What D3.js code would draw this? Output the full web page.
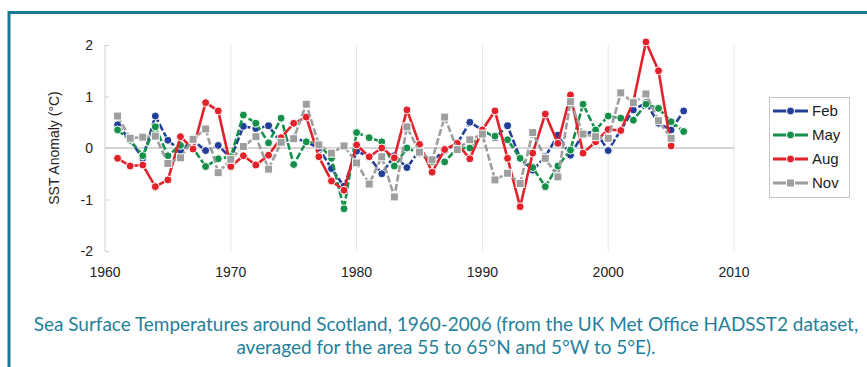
<!DOCTYPE html>
<html>
<head>
<meta charset="utf-8">
<script src="https://cdn.jsdelivr.net/npm/d3@7"></script>
<style>
  html, body { margin: 0; padding: 0; background: #fff; }
  svg { display: block; }
</style>
</head>
<body>
<div id="chart"></div>
<script>
const years = d3.range(1961, 2007)

const feb = [0.45, 0.15, -0.2, 0.62, 0.15, -0.05, 0.15, -0.05, 0.05, -0.2,
  0.42, 0.38, 0.43, 0.1, 0.2, 0.12, 0.0, -0.4, -0.74, -0.06,
  -0.17, -0.5, -0.15, -0.38, -0.05, -0.25, -0.05, 0.09, 0.5, 0.35,
  0.2, 0.43, -0.2, -0.43, -0.17, 0.25, -0.14, 0.28, 0.32, -0.05,
  0.35, 0.74, 0.88, 0.48, 0.35, 0.72]

const may = [0.35, 0.15, -0.15, 0.41, -0.15, 0.05, 0.0, -0.36, -0.21, -0.17,
  0.64, 0.48, 0.1, 0.58, -0.32, 0.12, 0.08, -0.2, -1.18, 0.3,
  0.2, 0.12, -0.35, 0.0, -0.1, -0.27, -0.27, 0.0, 0.0, 0.32,
  0.23, 0.16, -0.2, -0.38, -0.75, -0.35, -0.04, 0.85, 0.35, 0.62,
  0.58, 0.54, 0.85, 0.77, 0.51, 0.32]

const aug = [-0.2, -0.35, -0.33, -0.75, -0.62, 0.22, -0.02, 0.88, 0.72, -0.36,
  -0.15, -0.33, -0.14, 0.2, 0.48, 0.6, -0.17, -0.64, -0.82, 0.06,
  -0.17, 0.0, -0.19, 0.74, 0.07, -0.47, -0.03, 0.09, -0.21, 0.35,
  0.72, -0.2, -1.14, -0.1, 0.66, 0.09, 1.03, -0.1, 0.12, 0.36,
  0.34, 0.9, 2.06, 1.5, 0.04]

const nov = [0.62, 0.19, 0.21, 0.23, -0.3, -0.19, 0.17, 0.37, -0.48, -0.22,
  0.03, 0.22, -0.41, 0.11, 0.18, 0.85, 0.06, -0.1, 0.04, -0.29,
  -0.7, -0.17, -0.95, 0.41, -0.08, -0.23, 0.6, -0.03, 0.16, 0.27,
  -0.62, -0.49, -0.69, 0.3, -0.2, -0.56, 0.9, 0.27, 0.22, 0.19,
  1.07, 0.88, 1.05, 0.53, 0.19]

const xTicks = [1960, 1970, 1980, 1990, 2000, 2010]
const yTicks = [-2, -1, 0, 1, 2]

const series = [
  { name: 'Feb', values: feb, color: '#213f98', shape: 'circle' },
  { name: 'May', values: may, color: '#15904b', shape: 'circle' },
  { name: 'Aug', values: aug, color: '#e3212b', shape: 'circle' },
  { name: 'Nov', values: nov, color: '#9e9e9e', shape: 'square' }
]

const captionLines = [
  'Sea Surface Temperatures around Scotland, 1960-2006 (from the UK Met Office HADSST2 dataset,',
  'averaged for the area 55 to 65°N and 5°W to 5°E).'
]

const width = 867
const height = 367
const frameColor = '#1a7a92'
const textColor = '#222'
const axisFont = 'Liberation Sans, Arial, sans-serif'

const svg = d3.select('#chart')
  .append('svg')
  .attr('width', width)
  .attr('height', height)

// teal frame along top and left
svg.append('path')
  .attr('d', `M9,${height} L9,12.5 L${width},12.5`)
  .attr('fill', 'none')
  .attr('stroke', frameColor)
  .attr('stroke-width', 3)

const x = d3.scaleLinear().domain([1960, 2010]).range([105, 734])
const y = d3.scaleLinear().domain([-2, 2]).range([251, 45])

// vertical grid
svg.append('g')
  .selectAll('line')
  .data(xTicks.slice(1))
  .join('line')
  .attr('x1', (d) => x(d))
  .attr('x2', (d) => x(d))
  .attr('y1', y(2))
  .attr('y2', y(-2))
  .attr('stroke', '#e4e4e4')
  .attr('stroke-width', 1)

// zero line
svg.append('line')
  .attr('x1', x(1960))
  .attr('x2', x(2010))
  .attr('y1', y(0))
  .attr('y2', y(0))
  .attr('stroke', '#c8c8c8')
  .attr('stroke-width', 1.5)

// y axis
const yAxis = svg.append('g')
  .attr('transform', `translate(${x(1960)},0)`)
  .call(d3.axisRight(y).tickValues(yTicks).tickSize(4).tickFormat(''))
yAxis.selectAll('path, line').attr('stroke', '#cfcfcf')
yAxis.select('.domain').attr('d', `M0,${y(2)}V${y(-2)}`)

svg.append('g')
  .selectAll('text')
  .data(yTicks)
  .join('text')
  .attr('x', 93)
  .attr('y', (d) => y(d) + 5)
  .attr('text-anchor', 'end')
  .attr('font-family', axisFont)
  .attr('font-size', 14)
  .attr('fill', textColor)
  .text((d) => d)

svg.append('g')
  .selectAll('text')
  .data(xTicks)
  .join('text')
  .attr('x', (d) => x(d))
  .attr('y', 277)
  .attr('text-anchor', 'middle')
  .attr('font-family', axisFont)
  .attr('font-size', 14)
  .attr('fill', textColor)
  .text((d) => d)

svg.append('text')
  .attr('transform', `translate(59,148) rotate(-90)`)
  .attr('text-anchor', 'middle')
  .attr('font-family', axisFont)
  .attr('font-size', 14)
  .attr('fill', textColor)
  .text('SST Anomaly (°C)')

const line = d3.line()
  .x((d) => x(d.year))
  .y((d) => y(d.value))

const drawMarker = (g, shape, color, cx, cy) => {
  if (shape === 'square') {
    g.append('rect')
      .attr('x', cx - 4)
      .attr('y', cy - 4)
      .attr('width', 8)
      .attr('height', 8)
      .attr('fill', color)
      .attr('stroke', '#fff')
      .attr('stroke-width', 1)
  } else {
    g.append('circle')
      .attr('cx', cx)
      .attr('cy', cy)
      .attr('r', 4)
      .attr('fill', color)
      .attr('stroke', '#fff')
      .attr('stroke-width', 1)
  }
}

series.forEach((s) => {
  const pts = s.values.map((v, i) => ({ year: years[i], value: v }))
  const g = svg.append('g')
  g.append('path')
    .datum(pts)
    .attr('d', line)
    .attr('fill', 'none')
    .attr('stroke', s.color)
    .attr('stroke-width', 2.6)
    .attr('stroke-dasharray', s.name === 'Aug' ? null : '7,2.5')
  pts.forEach((p) => drawMarker(g, s.shape, s.color, x(p.year), y(p.value)))
})

// legend
const legend = svg.append('g')
legend.append('rect')
  .attr('x', 769.5)
  .attr('y', 97.5)
  .attr('width', 80)
  .attr('height', 100)
  .attr('fill', '#fff')
  .attr('stroke', '#c4c4c4')

series.forEach((s, i) => {
  const ly = 111 + i * 24
  legend.append('line')
    .attr('x1', 773)
    .attr('x2', 808)
    .attr('y1', ly)
    .attr('y2', ly)
    .attr('stroke', s.color)
    .attr('stroke-width', 3)
  drawMarker(legend, s.shape, s.color, 790.5, ly)
  legend.append('text')
    .attr('x', 812)
    .attr('y', ly + 5)
    .attr('font-family', axisFont)
    .attr('font-size', 15)
    .attr('fill', textColor)
    .text(s.name)
})

// caption
const caption = svg.append('g')
  .attr('font-family', 'Lato, Open Sans, sans-serif')
  .attr('fill', '#1f7f9c')
  .attr('text-anchor', 'middle')

const line1 = caption.append('text')
  .attr('x', 446)
  .attr('y', 331)
  .attr('font-size', 16)
  .text(captionLines[0])
const fit = 825 / line1.node().getComputedTextLength() * 16
line1.attr('font-size', fit)

caption.append('text')
  .attr('x', 446)
  .attr('y', 354)
  .attr('font-size', fit)
  .text(captionLines[1])
</script>
</body>
</html>
